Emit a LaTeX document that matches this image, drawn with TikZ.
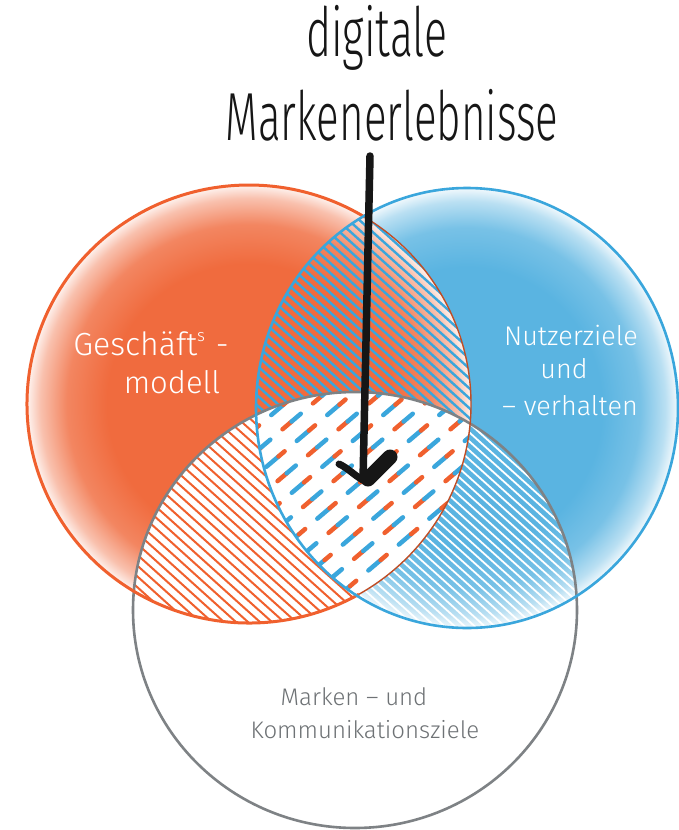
\documentclass[tikz,border=0pt]{standalone}
\usepackage{fontspec}
\usepackage{graphicx}
\setmainfont{Lato}
\newfontfamily\handfont{Fira Sans Light}
\definecolor{orFill}{HTML}{F06B3E}
\definecolor{orC}{HTML}{F0602E}
\definecolor{blFill}{HTML}{5AB4E1}
\definecolor{blC}{HTML}{3AA6DC}
\definecolor{grC}{HTML}{7E8285}
\definecolor{grT}{HTML}{6E7275}
\definecolor{inkC}{HTML}{161616}
\pgfdeclareradialshading{orglow}{\pgfpoint{0bp}{0bp}}{color(0bp)=(orFill); color(16bp)=(orFill); color(20.5bp)=(orFill!82!white); color(23.5bp)=(orFill!42!white); color(25bp)=(orFill!8!white); color(50bp)=(orFill!8!white)}
\pgfdeclareradialshading{blglow}{\pgfpoint{0bp}{0bp}}{color(0bp)=(blFill); color(16bp)=(blFill); color(20.5bp)=(blFill!82!white); color(23.5bp)=(blFill!42!white); color(25bp)=(blFill!8!white); color(50bp)=(blFill!8!white)}
\begin{document}
\begin{tikzpicture}[x=1pt,y=-1pt,
  hatchB/.style={draw=blC, line width=2.4pt, line cap=round},
  hatchO/.style={draw=orC, line width=2pt, line cap=round},
  hatchW/.style={draw=white, line width=1.8pt, line cap=round},
  dashline/.style={line width=4.5pt, line cap=round},
  orline/.style={draw=orC, line width=3pt},
  orthin/.style={draw=orC!80!black, line width=1.4pt},
  blline/.style={draw=blC, line width=2.6pt},
  grline/.style={draw=grC, line width=2.6pt},
  titletext/.style={text=inkC, font=\handfont\fontsize{68}{68}\selectfont, anchor=base, inner sep=0pt},
  whitelabel/.style={text=white, anchor=base, inner sep=0pt},
  graylabel/.style={text=grT, font=\handfont\fontsize{24}{24}\selectfont, anchor=base, inner sep=0pt}]
\useasboundingbox (0,0) rectangle (679,830);
\fill[white] (0,0) rectangle (679,830);
\def\circO{(249,404) ellipse [x radius=222, y radius=219]}
\def\circB{(467,408) ellipse [x radius=211, y radius=220]}
\def\circG{(355,610) ellipse [x radius=222, y radius=218]}
% fills
\shade[shading=blglow] \circB;
\shade[shading=orglow] \circO;
% blue hatch in orange/blue lens
\begin{scope}
  \clip \circO; \clip \circB;
  \foreach \i in {-500,-489,...,420} \draw[hatchB] (\i,100) -- ++(800,720);
\end{scope}
% white hatch in blue/gray lens
\begin{scope}
  \clip \circB; \clip \circG;
  \foreach \i in {-500,-490,...,420} \draw[hatchW] (\i,100) -- ++(800,720);
\end{scope}
% orange/gray lens: white with orange hatch
\begin{scope}
  \clip \circG; \clip \circO;
  \fill[white] (0,0) rectangle (679,830);
  \foreach \i in {-500,-488,...,420} \draw[hatchO] (\i,100) -- ++(800,720);
\end{scope}
% triple region: dashes
\begin{scope}
  \clip \circG; \clip \circO; \clip \circB;
  \fill[white] (0,0) rectangle (679,830);
  \foreach \i in {-120,-64,...,340} {
    \draw[dashline, draw=blC, dash pattern=on 16pt off 24pt] (\i,700) -- ++(500,-425);
    \draw[dashline, draw=orC, dash pattern=on 8pt off 32pt, dash phase=24pt] (\i,700) -- ++(500,-425);
  }
  \foreach \i in {-92,-36,...,340} {
    \draw[dashline, draw=orC, dash pattern=on 12pt off 28pt, dash phase=22pt] (\i,700) -- ++(500,-425);
    \draw[dashline, draw=blC, dash pattern=on 12pt off 28pt, dash phase=10pt] (\i,700) -- ++(500,-425);
  }
\end{scope}
% outlines
\draw[grline] \circG;
\draw[orline] (249,404) ++(60.3:222 and 219) arc[start angle=60.3, end angle=301.5, x radius=222, y radius=219];
\draw[orthin] (249,404) ++(-58.5:222 and 219) arc[start angle=-58.5, end angle=60.3, x radius=222, y radius=219];
\draw[blline] \circB;
% title
\node[titletext] (t1) at (377,56) {\scalebox{0.63}[1]{digitale}};
\node[titletext] (t2) at (392,140) {\scalebox{0.62}[1]{Markenerlebnisse}};
% arrow
\coordinate (arrowtop) at (370,156);
\coordinate (arrowtip) at (363,480);
\coordinate (wingL) at (339,464);
\coordinate (blobA) at (368,479);
\coordinate (blobB) at (390,457);
\draw[inkC, line width=7.5pt, line cap=round] (arrowtop) -- (arrowtip);
\draw[inkC, line width=7pt, line cap=round, line join=round] (wingL) .. controls (348,468) and (355,476) .. (arrowtip);
\draw[inkC, line width=15pt, line cap=round] (blobA) -- (blobB);
% labels
\node[whitelabel, font=\handfont\fontsize{32}{32}\selectfont] (g1) at (151,355) {Geschäft\raisebox{0.42em}{\fontsize{17}{17}\selectfont s}\,\,-};
\node[whitelabel, font=\handfont\fontsize{31}{31}\selectfont] (g2) at (172,393) {modell};
\node[whitelabel, font=\handfont\fontsize{27}{27}\selectfont] (n1) at (571,345) {Nutzerziele};
\node[whitelabel, font=\handfont\fontsize{27}{27}\selectfont] (n2) at (564,378) {und};
\node[whitelabel, font=\handfont\fontsize{27}{27}\selectfont] (n3) at (570,415) {– verhalten};
\node[graylabel] (m1) at (354,705) {Marken – und};
\node[graylabel] (m2) at (365,738) {Kommunikationsziele};
\end{tikzpicture}
\end{document}
